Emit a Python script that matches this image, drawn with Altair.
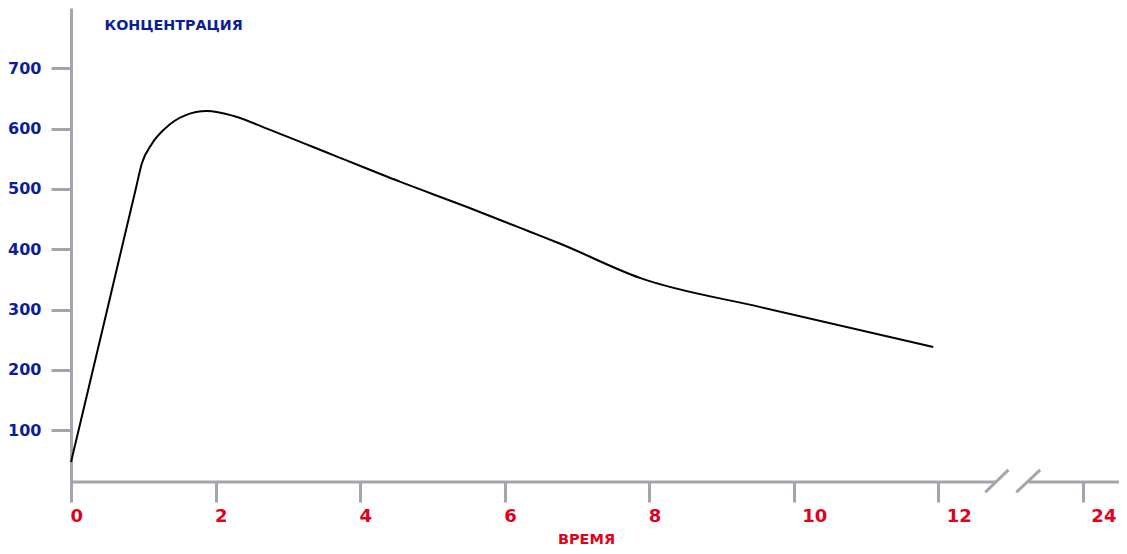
import altair as alt
import pandas as pd

# curve
time = [0, 0.45, 0.90, 0.98, 1.12, 1.30, 1.58, 1.88, 2.25, 2.71, 3.63, 4.55, 5.48, 6.35, 6.77, 7.88, 9.54, 11.93]
conc = [47, 274, 502, 542, 575, 600, 622, 629, 621, 600, 556, 512, 470, 429, 409, 352, 304, 238]

x_ticks = [0, 2, 4, 6, 8, 10, 12, 14]   # 14 is labelled "24" (after the break)
y_ticks = [100, 200, 300, 400, 500, 600, 700]

# x-axis line pieces (with break) and break slashes
axis_start = [0, 13.25]
axis_end = [12.8, 14.5]
slash_x1 = [12.65, 13.08]
slash_x2 = [12.97, 13.41]
slash_y1 = [-3, -3]
slash_y2 = [34, 34]

GRAY = "#a2a6ac"
BLUE = "#0b1d98"
RED = "#e2001a"
FONT = "DejaVu Sans"

XDOM = [0, 14.5]
YDOM = [14, 800]

curve_df = pd.DataFrame({"t": time, "c": conc})
axis_df = pd.DataFrame({"x": axis_start, "x2": axis_end, "y": [YDOM[0]] * 2})
slash_df = pd.DataFrame({"x": slash_x1, "x2": slash_x2, "y": slash_y1, "y2": slash_y2})

xscale = alt.Scale(domain=XDOM, nice=False, zero=False)
yscale = alt.Scale(domain=YDOM, nice=False, zero=False)

line = alt.Chart(curve_df).mark_line(
    color="black", strokeWidth=2, interpolate="monotone"
).encode(
    x=alt.X(
        "t:Q",
        scale=xscale,
        axis=alt.Axis(
            values=x_ticks,
            format="d",
            labelExpr="datum.value == 14 ? '24' : datum.label",
            domain=False,
            grid=False,
            ticks=True,
            tickSize=20,
            tickWidth=3,
            tickColor=GRAY,
            tickCap="butt",
            labelFont=FONT,
            labelFontWeight="bold",
            labelFontSize=18,
            labelColor=RED,
            labelAlign="left",
            labelBaseline="top",
            labelPadding=5,
            labelOffset={"condition": {"test": "datum.value >= 10", "value": 8}, "value": -1},
            labelFlush=False,
            labelOverlap=False,
            title="ВРЕМЯ",
            titleFont=FONT,
            titleFontWeight="bold",
            titleFontSize=14.5,
            titleColor=RED,
            titleX=515,
            titleY=57,
            titleAlign="center",
            titleBaseline="middle",
        ),
    ),
    y=alt.Y(
        "c:Q",
        scale=yscale,
        axis=alt.Axis(
            values=y_ticks,
            domain=True,
            domainColor=GRAY,
            domainWidth=3,
            domainCap="butt",
            grid=False,
            tickSize=20,
            tickWidth=3,
            tickColor=GRAY,
            tickCap="butt",
            labelFont=FONT,
            labelFontWeight="bold",
            labelFontSize=16,
            labelColor=BLUE,
            labelPadding=10,
            labelFlush=False,
            labelOverlap=False,
            title="КОНЦЕНТРАЦИЯ",
            titleFont=FONT,
            titleFontWeight="bold",
            titleFontSize=14.3,
            titleColor=BLUE,
            titleAngle=0,
            titleX=33,
            titleY=17,
            titleAlign="left",
            titleBaseline="middle",
        ),
    ),
)

axis_line = alt.Chart(axis_df).mark_rule(color=GRAY, strokeWidth=3, strokeCap="butt").encode(
    x=alt.X("x:Q", scale=xscale),
    x2="x2:Q",
    y=alt.Y("y:Q", scale=yscale),
)

slashes = alt.Chart(slash_df).mark_rule(color=GRAY, strokeWidth=3, strokeCap="butt").encode(
    x=alt.X("x:Q", scale=xscale),
    x2="x2:Q",
    y=alt.Y("y:Q", scale=yscale),
    y2="y2:Q",
)

chart = alt.layer(axis_line, slashes, line).properties(
    width=1048,
    height=474,
    autosize=alt.AutoSizeParams(type="none"),
    padding={"left": 63, "top": 0, "right": 0, "bottom": 64},
    background="white",
).configure_view(stroke=None)

chart.save("out.html", embed_options={"renderer": "svg", "actions": False})
